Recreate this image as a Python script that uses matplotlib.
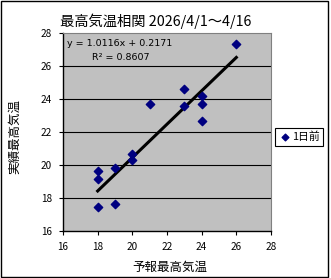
import numpy as np
import matplotlib.pyplot as plt
from matplotlib.patches import Rectangle

plt.rcParams['font.family'] = ['Noto Sans CJK JP', 'DejaVu Sans']

# forecast max temp vs observed max temp
forecast = [26, 23, 24, 24, 21, 23, 24, 20, 20, 19, 18, 18, 19, 18]
observed = [27.35, 24.63, 24.16, 23.72, 23.72, 23.58, 22.69, 20.69, 20.32,
            19.8, 19.62, 19.17, 17.62, 17.47]
slope, intercept = 1.0116, 0.2171
r2 = 0.8607
ticks = [16, 18, 20, 22, 24, 26, 28]

W, H = 331, 278
fig = plt.figure(figsize=(W / 100, H / 100), dpi=100)
fig.patch.set_facecolor('white')
ax = fig.add_axes([63 / W, 1 - 231 / H, 208 / W, 198 / H])
ax.set_facecolor('#c0c0c0')

for t in ticks[1:-1]:
    ax.axhline(t, color='black', linewidth=0.8, zorder=1)

xs = np.array([min(forecast), max(forecast)])
ax.plot(xs, slope * xs + intercept, color='black', linewidth=2.2, zorder=2)
ax.scatter(forecast, observed, marker='D', s=18, color='#000080', zorder=3,
           label='1日前')

ax.set_xlim(16, 28)
ax.set_ylim(16, 28)
ax.set_xticks(ticks)
ax.set_yticks(ticks)
ax.tick_params(labelsize=7.2, length=3, direction='out', pad=5)
for s in ['left', 'bottom']:
    ax.spines[s].set_color('black')
    ax.spines[s].set_linewidth(1.0)
for s in ['top', 'right']:
    ax.spines[s].set_color('#808080')
    ax.spines[s].set_linewidth(0.8)

ax.text(67 / W, 1 - 43 / H, f'y = {slope}x + {intercept}', transform=fig.transFigure,
        fontsize=6.8, va='center', ha='left', family=['DejaVu Sans'])
ax.text(92 / W, 1 - 57 / H, f'R² = {r2}', transform=fig.transFigure,
        fontsize=6.8, va='center', ha='left', family=['DejaVu Sans'])

fig.text(156 / W, 1 - 21 / H, '最高気温相関 2026/4/1～4/16', ha='center', va='center',
         fontsize=10.3)
fig.text(170 / W, 1 - 267 / H, '予報最高気温', ha='center', va='center', fontsize=9)
fig.text(15 / W, 1 - 136 / H, '実績最高気温', ha='center', va='center', fontsize=9,
         rotation=90)

leg = fig.legend(loc='center', bbox_to_anchor=(299 / W, 1 - 137 / H), fontsize=7.8,
                 frameon=True, fancybox=False, edgecolor='black', framealpha=1,
                 handletextpad=0.0, borderpad=0.3, handlelength=1.3, markerscale=0.8)
leg.get_frame().set_linewidth(0.8)

fig.patches.append(Rectangle((0.002, 0.005), 0.99, 0.992, transform=fig.transFigure,
                             fill=False, edgecolor='black', linewidth=1.0))

fig.savefig('out.png', dpi=100, facecolor='white')
